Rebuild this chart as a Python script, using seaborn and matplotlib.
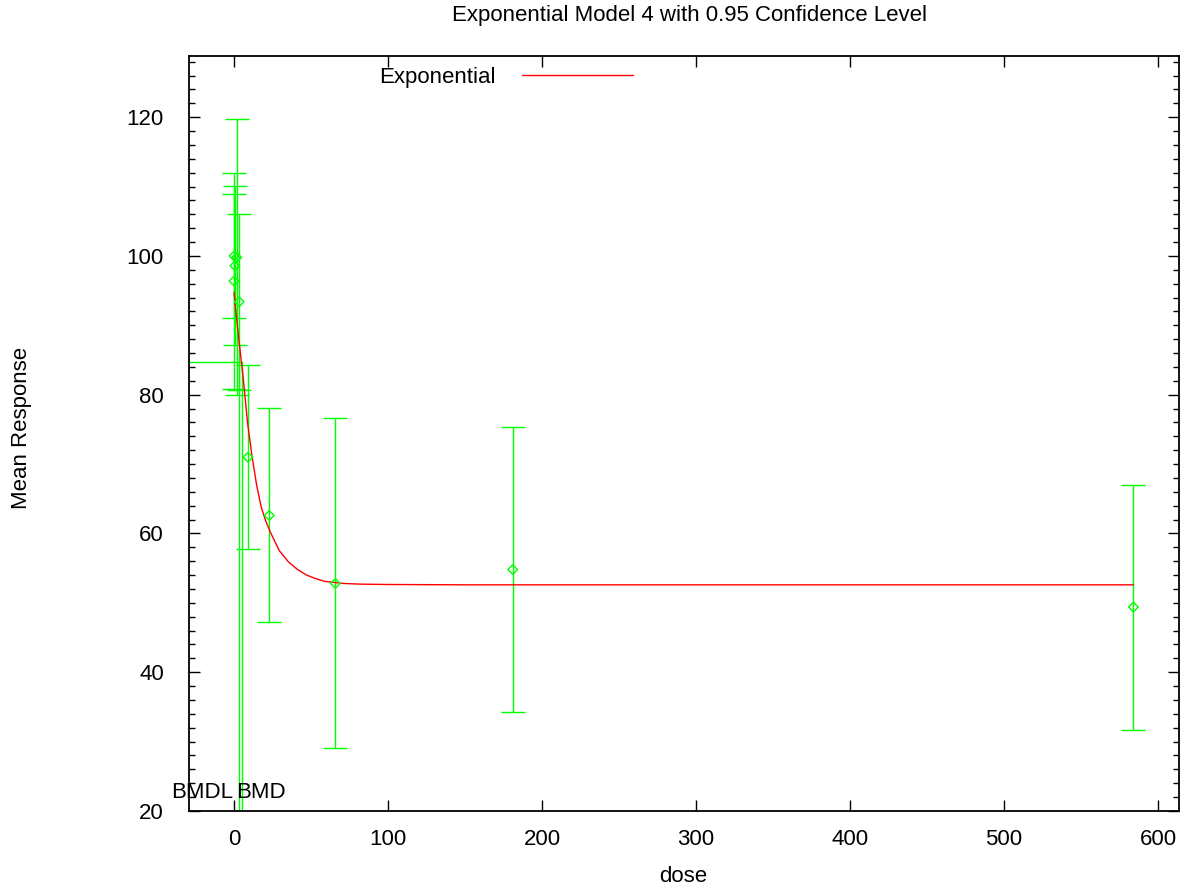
import matplotlib
matplotlib.use("Agg")
import matplotlib.pyplot as plt
import matplotlib.transforms as mtransforms
from matplotlib.ticker import MultipleLocator
import seaborn as sns
import pandas as pd

# ---- data ----
dose = [0.0, 0.1, 0.6, 1.8, 3.4, 9.1, 22.9, 65.8, 181.0, 584.0]
mean_resp = [96.4, 100.0, 98.6, 99.8, 93.4, 71.0, 62.6, 52.8, 54.8, 49.4]
ci_lower = [80.8, 91.1, 87.2, 79.9, 80.75, 57.7, 47.2, 29.1, 34.2, 31.7]
ci_upper = [112.0, 108.9, 110.1, 119.75, 106.05, 84.3, 78.05, 76.6, 75.4, 67.0]

curve_dose = [0, 2.9, 5.9, 8.8, 11.8, 14.7, 17.7, 20.6, 23.6, 29.5, 35.4, 41.3,
              47.2, 53.0, 59.0, 70.7, 82.5, 100, 150, 300, 584]
curve_resp = [94.8, 88.5, 82.6, 76.0, 71.0, 67.0, 63.8, 61.8, 60.2, 57.5, 55.9, 54.8,
              54.0, 53.5, 53.1, 52.8, 52.7, 52.65, 52.6, 52.6, 52.6]

bmr_response = 84.73
bmdl = 3.25
bmd = 5.2

x_ticks = [0, 100, 200, 300, 400, 500, 600]
y_ticks = [20, 40, 60, 80, 100, 120]

title = "Exponential Model 4 with 0.95 Confidence Level"
series_name = "Exponential"

# ---- style ----
sns.set_theme(style="white")
plt.rcParams["font.family"] = ["Liberation Sans", "DejaVu Sans"]
plt.rcParams["text.color"] = "black"
plt.rcParams["axes.labelcolor"] = "black"
FS = 16

W, H = 1191, 893
fig = plt.figure(figsize=(W / 100, H / 100), dpi=100)
ax = fig.add_axes([189 / W, 1 - 811 / H, (1178.5 - 189) / W, (811 - 55.5) / H])

green = "#00ff00"
red = "#ff0000"

pts = pd.DataFrame({"dose": dose, "mean": mean_resp, "lo": ci_lower, "hi": ci_upper})
curve = pd.DataFrame({"dose": curve_dose, "resp": curve_resp})

# error bars
yerr_low = [m - l for m, l in zip(mean_resp, ci_lower)]
yerr_high = [h - m for m, h in zip(mean_resp, ci_upper)]
ax.errorbar(dose, mean_resp, yerr=[yerr_low, yerr_high], fmt="none",
            ecolor=green, elinewidth=1.0, capsize=8.6, capthick=1.0, zorder=2)

# BMD / BMDL lines
ax.plot([-100, bmd], [bmr_response, bmr_response], color=green, lw=1.0, zorder=2)
ax.plot([bmdl, bmdl], [0, bmr_response], color=green, lw=1.0, zorder=2)
ax.plot([bmd, bmd], [0, bmr_response], color=green, lw=1.0, zorder=2)

# model curve
sns.lineplot(data=curve, x="dose", y="resp", color=red, lw=1.0, sort=False,
             ax=ax, label=series_name, zorder=3)

# data points
sns.scatterplot(data=pts, x="dose", y="mean", marker="D", s=24, facecolor="none",
                edgecolor=green, linewidth=1.0, ax=ax, zorder=4, legend=False)

ax.set_xlim(-29.2, 613.3)
ax.set_ylim(20, 128.9)
ax.set_xticks(x_ticks)
ax.set_yticks(y_ticks)
ax.yaxis.set_minor_locator(MultipleLocator(2))
ax.tick_params(axis="both", which="both", direction="in", top=True, right=True,
               bottom=True, left=True, colors="black", labelsize=FS)
ax.tick_params(axis="both", which="major", length=8, width=1.0)
ax.tick_params(axis="y", which="minor", length=4, width=1.0)
ax.tick_params(axis="x", which="major", pad=13)
ax.tick_params(axis="y", which="major", pad=18)
for sp in ax.spines.values():
    sp.set_color("black")
    sp.set_linewidth(1.3)
ax.set_xlabel("")
ax.set_ylabel("")

# BMDL / BMD labels
off = mtransforms.offset_copy(ax.transData, fig=fig, x=-6, y=0, units="dots")
ax.text(bmdl, 21.9, "BMDL", ha="right", va="baseline", fontsize=FS, color="black",
        transform=off)
ax.text(bmd, 21.9, "BMD", ha="left", va="baseline", fontsize=FS, color="black",
        transform=off)

# legend
handles, labels = ax.get_legend_handles_labels()
leg = ax.legend(handles=handles, labels=labels, markerfirst=False, frameon=False,
                loc="center left", bbox_to_anchor=(379 / W, 1 - 77 / H),
                bbox_transform=fig.transFigure, fontsize=FS, handlelength=5.0,
                handletextpad=1.2, borderpad=0, borderaxespad=0)
for t in leg.get_texts():
    t.set_color("black")

# titles / labels
fig.text(690 / W, 1 - 15 / H, title, ha="center", va="center", fontsize=FS, color="black")
fig.text(683 / W, 1 - 877 / H, "dose", ha="center", va="center", fontsize=FS, color="black")
fig.text(22 / W, 1 - 428 / H, "Mean Response", ha="center", va="center",
         rotation=90, fontsize=FS, color="black")

fig.savefig("out.png", dpi=100)
